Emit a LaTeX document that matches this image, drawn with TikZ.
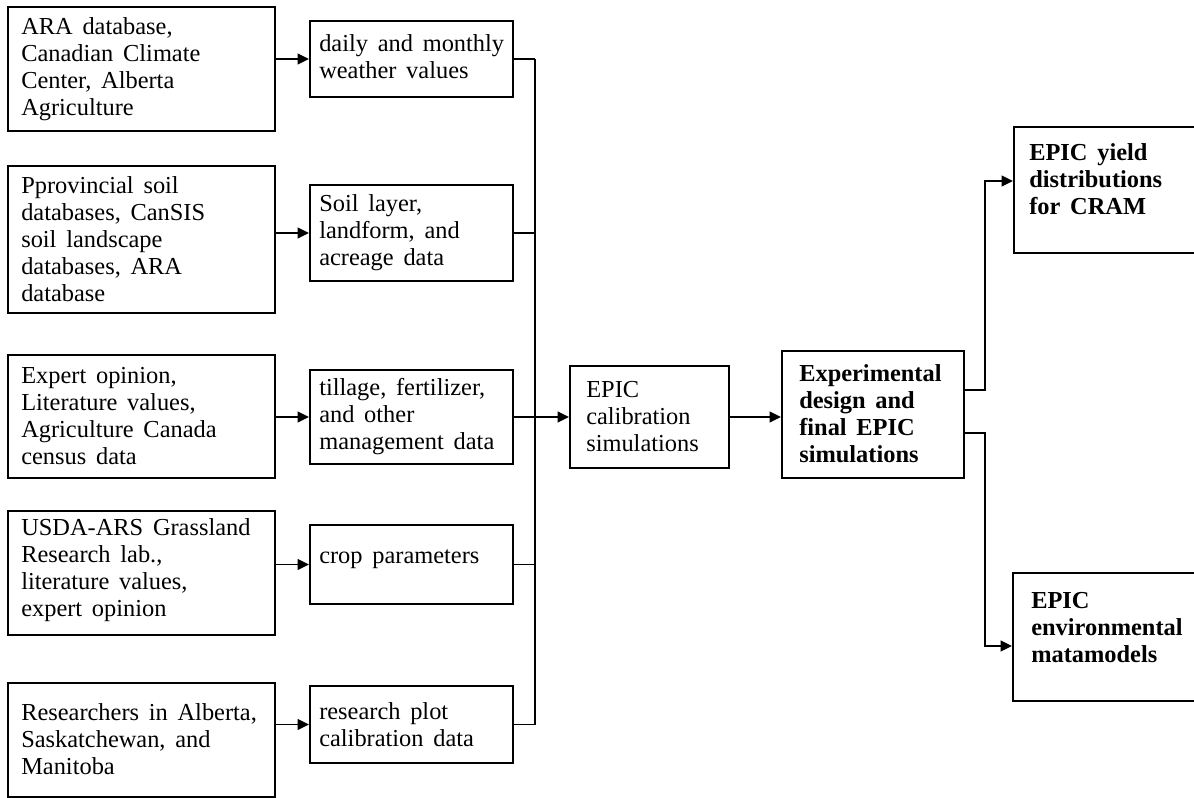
\documentclass[tikz,border=0pt]{standalone}
\usepackage{fontspec}
\setmainfont{Liberation Serif}
\usetikzlibrary{arrows.meta,calc,fit}
\newcommand{\boxfont}{\fontsize{18.3}{20.25}\selectfont\spaceskip=0.4em plus 0.1em}
\begin{document}
\begin{tikzpicture}[x=0.75pt,y=-0.75pt,
  frame/.style={draw,line width=1.5pt,inner sep=0pt},
  txt/.style={align=left,inner sep=0pt,anchor=west,font=\boxfont},
  btxt/.style={txt,font=\boxfont\bfseries},
  ln/.style={line width=1.2pt},
  arr/.style={ln,-{Triangle[length=8.5pt,width=8pt]}}]
\useasboundingbox (0,0) rectangle (1194,798);
\clip (0,0) rectangle (1194,798);

% source boxes
\node[frame,fit={(8,7) (275,131)}] (l1) {};
\node[frame,fit={(8,166) (275,313)}] (l2) {};
\node[frame,fit={(8,355) (275,478)}] (l3) {};
\node[frame,fit={(8,511) (275,635)}] (l4) {};
\node[frame,fit={(8,683) (275,797)}] (l5) {};
\node[txt] (l1t) at ($(l1.west)+(14,0)$) {ARA database,\\Canadian Climate\\Center, Alberta\\Agriculture};
\node[txt] (l2t) at ($(l2.west)+(14,0)$) {Pprovincial soil\\databases, CanSIS\\soil landscape\\databases, ARA\\database};
\node[txt] (l3t) at ($(l3.west)+(14,0)$) {Expert opinion,\\Literature values,\\Agriculture Canada\\census data};
\node[txt] (l4t) at ($(l4.west)+(14,-3)$) {USDA-ARS Grassland\\Research lab.,\\literature values,\\expert opinion};
\node[txt] (l5t) at ($(l5.west)+(14,-1)$) {Researchers in Alberta,\\Saskatchewan, and\\Manitoba};

% data boxes
\node[frame,fit={(310,21) (513,97)}] (m1) {};
\node[frame,fit={(310,185) (513,281)}] (m2) {};
\node[frame,fit={(310,370) (513,464)}] (m3) {};
\node[frame,fit={(310,525) (513,604)}] (m4) {};
\node[frame,fit={(310,686) (513,763)}] (m5) {};
\node[txt] (m1t) at ($(m1.west)+(10,-2)$) {daily and monthly\\weather values};
\node[txt] (m2t) at ($(m2.west)+(10,0)$) {Soil layer,\\landform, and\\acreage data};
\node[txt] (m3t) at ($(m3.west)+(10,0)$) {tillage, fertilizer,\\and other\\management data};
\node[txt] (m4t) at ($(m4.west)+(10,-5)$) {crop parameters};
\node[txt] (m5t) at ($(m5.west)+(10,0)$) {research plot\\calibration data};

% simulation boxes
\node[frame,fit={(570,366) (729,468)}] (cal) {};
\node[frame,fit={(782,351) (964,478)}] (exp) {};
\node[frame,fit={(1014,127) (1230,253)}] (tr) {};
\node[frame,fit={(1013,573) (1230,701)}] (br) {};
\node[txt] (calt) at ($(cal.west)+(17,0)$) {EPIC\\calibration\\simulations};
\node[btxt] (expt) at ($(exp.west)+(18,-1)$) {Experimental\\design and\\final EPIC\\simulations};
\node[btxt] (trt) at ($(tr.west)+(16,-11)$) {EPIC yield\\distributions\\for CRAM};
\node[btxt] (brt) at ($(br.west)+(19,-9)$) {EPIC\\environmental\\matamodels};

% connectors
\coordinate (bus) at (535,0);
\coordinate (rbus) at (985,0);
\foreach \i in {1,...,5}{
  \draw[arr] (l\i.east |- m\i.west) -- (m\i.west);
  \draw[ln] (m\i.east) -- (m\i.east -| bus);
}
\draw[ln] (m1.east -| bus) -- (m5.east -| bus);
\draw[arr] (cal.west -| bus) -- (cal.west);
\draw[arr] (cal.east) -- (cal.east -| exp.west);
\coordinate (exa) at ($(exp.east)+(0,-24.5)$);
\coordinate (exb) at ($(exp.east)+(0,18.5)$);
\coordinate (tra) at ($(tr.west)+(0,-9)$);
\coordinate (bra) at ($(br.west)+(0,9)$);
\draw[arr] (exa) -| (rbus |- tra) -- (tra);
\draw[arr] (exb) -| (rbus |- bra) -- (bra);
\end{tikzpicture}
\end{document}
